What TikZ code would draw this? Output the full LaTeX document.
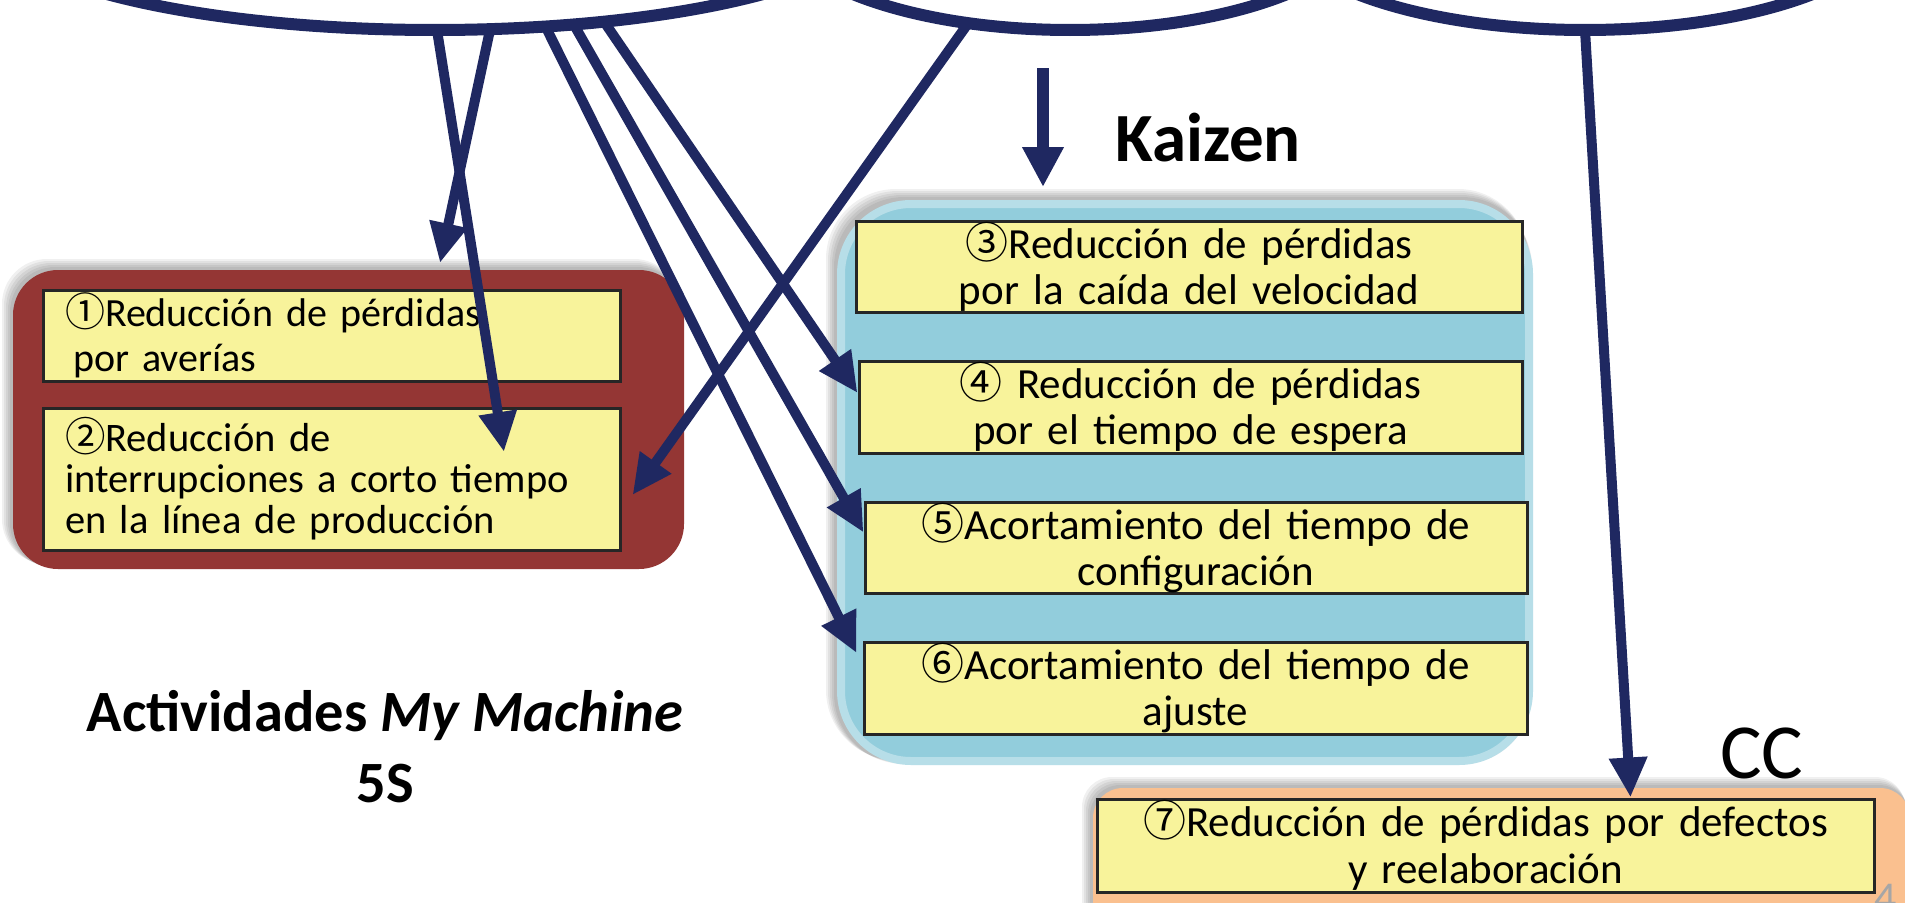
\documentclass[tikz,border=0pt]{standalone}
\usepackage{fontspec}
\setmainfont{Carlito}
\newfontfamily\cjkf{Noto Sans CJK JP}
\usetikzlibrary{shapes.geometric,arrows.meta}
\definecolor{navy}{HTML}{1F2861}
\definecolor{boxred}{HTML}{943634}
\definecolor{boxblue}{HTML}{92CDDC}
\definecolor{boxblueb}{HTML}{B7DEE8}
\definecolor{boxorange}{HTML}{FAC08F}
\definecolor{notey}{HTML}{F8F39B}
\definecolor{edgec}{HTML}{262626}
\newcommand\circnum[1]{{\cjkf #1}}
\begin{document}
\begin{tikzpicture}[x=1pt,y=-1pt,
  oval/.style={draw=navy,line width=12pt,ellipse,inner sep=0pt,outer sep=0pt},
  link/.style={draw=navy,line width=10pt,-{Triangle[length=40pt,width=36pt]}},
  note/.style={draw=edgec,line width=3pt,fill=notey,rectangle,inner ysep=0pt,inner xsep=10pt,
    font=\fontsize{43}{46}\selectfont,align=center},
  notel/.style={note,align=left,inner xsep=22pt,font=\fontsize{40}{45}\selectfont},
  panel/.style={rectangle,inner sep=0pt}
]
\useasboundingbox (0,0) rectangle (1905,902);
\clip (0,0) rectangle (1905,902);
\fill[white] (0,0) rectangle (1905,902);

% top ellipses
\node[oval,minimum width=900pt,minimum height=228pt] (e1) at (435,-84) {};
\node[oval,minimum width=600pt,minimum height=232pt] (e2) at (1070,-86) {};
\node[oval,minimum width=620pt,minimum height=224pt] (e3) at (1585,-82) {};

% soft shadows
\foreach \s in {1,...,5} {
  \fill[black,opacity=0.06,rounded corners=45pt] (13-2*\s-1,270-2*\s-1) rectangle (684-\s,569-\s);
  \fill[black,opacity=0.06,rounded corners=70pt] (837-2*\s-1,200-2*\s-1) rectangle (1533-\s,765-\s);
  \fill[black,opacity=0.06,rounded corners=30pt] (1093-2*\s-1,788-2*\s-1) rectangle (1910-\s,960);
}

% containers
\node[panel,fill=boxred,rounded corners=45pt,minimum width=671pt,minimum height=299pt] (red) at (348.5,419.5) {};
\node[panel,fill=boxblue,draw=boxblueb,line width=8pt,rounded corners=70pt,minimum width=688pt,minimum height=557pt] (blue) at (1185,482.5) {};
\node[panel,fill=boxorange,rounded corners=30pt,minimum width=817pt,minimum height=172pt] (orange) at (1501.5,874) {};

% notes
\node[notel,minimum width=577pt,minimum height=91pt,text width=533pt] (b1) at (331.5,335.5)
  {\circnum{①}Reducción de pérdidas\\\hspace*{8pt}por averías};
\node[notel,minimum width=577pt,minimum height=142pt,text width=533pt,font=\fontsize{40.5}{41}\selectfont] (b2) at (331.5,479)
  {\circnum{②}Reducción de\\interrupciones a corto tiempo\\en la línea de producción};
\node[note,minimum width=666pt,minimum height=91pt,text width=646pt] (b3) at (1189,266.5)
  {\circnum{③}Reducción de pérdidas\\por la caída del velocidad};
\node[note,minimum width=663pt,minimum height=92pt,text width=643pt] (b4) at (1190.5,407)
  {\circnum{④} Reducción de pérdidas\\por el tiempo de espera};
\node[note,minimum width=662pt,minimum height=91pt,text width=642pt] (b5) at (1196,547.5)
  {\circnum{⑤}Acortamiento del tiempo de\\configuración};
\node[note,minimum width=663pt,minimum height=92pt,text width=643pt] (b6) at (1195.5,688)
  {\circnum{⑥}Acortamiento del tiempo de\\ajuste};
\node[note,minimum width=777pt,minimum height=93pt,text width=757pt,font=\fontsize{43}{47}\selectfont] (b7) at (1485.5,845.5)
  {\circnum{⑦}Reducción de pérdidas por defectos\\y reelaboración};

% labels
\node[anchor=base west,inner sep=0pt,font=\fontsize{69}{80}\selectfont\bfseries] (kz) at (1115,161) {Kaizen};
\node[anchor=base west,inner sep=0pt,font=\fontsize{78}{90}\selectfont] (cc) at (1720,778) {CC};
\node[align=center,inner sep=0pt,font=\fontsize{58.5}{71}\selectfont\bfseries] (act) at (385,747)
  {Actividades \textit{My Machine}\\5S};
\node[anchor=north west,inner sep=0pt,text=gray!70,font=\fontsize{44}{50}\selectfont] (pg) at (1874,884) {4};

% free arrow ends
\coordinate (t1) at (440,263);
\coordinate (t2) at (504,452);
\coordinate (k0) at (1043,68);
\coordinate (k1) at (1043,187);

% connectors
\draw[link] (e1.-64) -- (t1);
\draw[link] (e1.-89.5) -- (t2);
\draw[link] (e1.-32.3) -- ([yshift=14pt]b4.west);
\draw[link] (e1.-38.9) -- ([yshift=15pt]b5.west);
\draw[link] (e1.-45) -- ([xshift=-6pt,yshift=35pt]b6.west);
\draw[link] (e2.-133.4) -- ([xshift=11pt,yshift=-16pt]b2.east);
\draw[link] (e3.south) -- ([xshift=145pt]b7.north);
\draw[link,line width=12pt,-{Triangle[length=40pt,width=39pt]}] (k0) -- (k1);
\end{tikzpicture}
\end{document}
